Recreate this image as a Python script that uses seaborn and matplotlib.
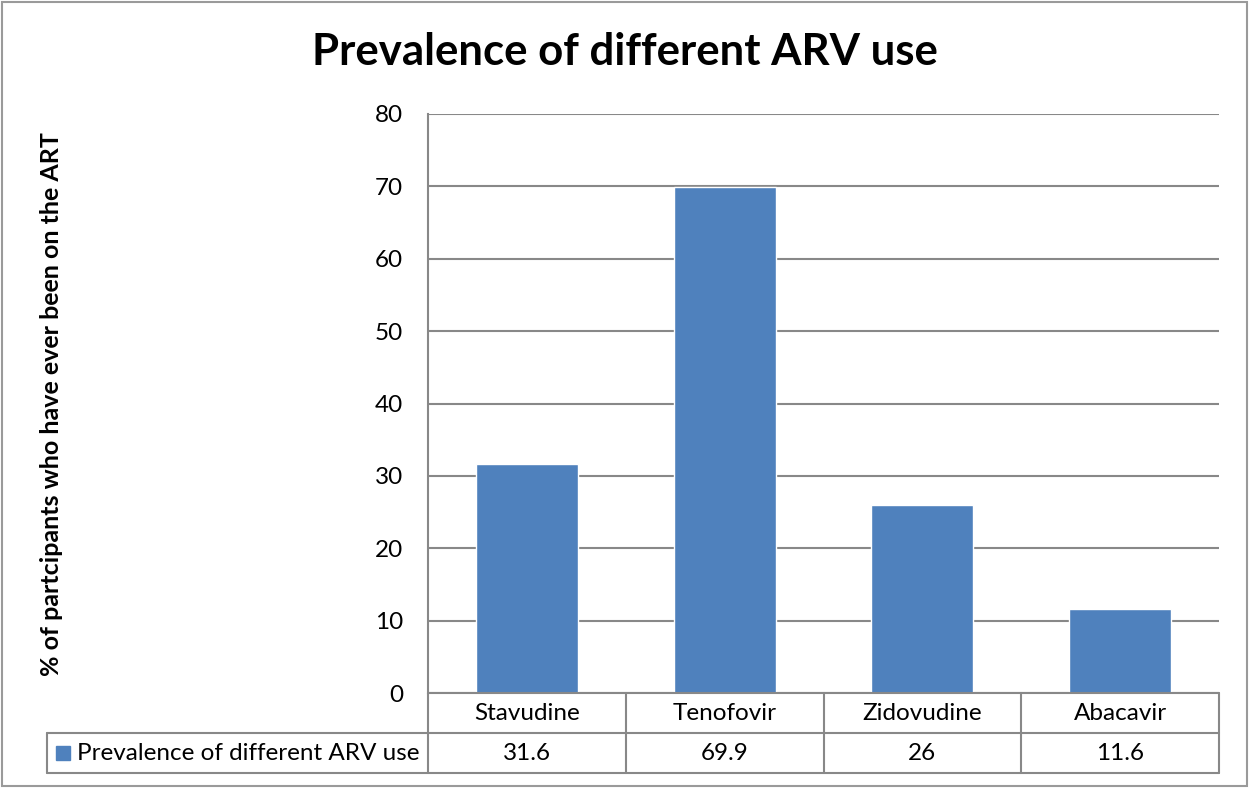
import matplotlib
matplotlib.use('Agg')
import matplotlib.pyplot as plt
import seaborn as sns
import pandas as pd
from matplotlib.lines import Line2D
from matplotlib.patches import Rectangle

drugs = ['Stavudine', 'Tenofovir', 'Zidovudine', 'Abacavir']
prevalence = [31.6, 69.9, 26, 11.6]
value_labels = ['31.6', '69.9', '26', '11.6']
series_name = 'Prevalence of different ARV use'
y_ticks = [0, 10, 20, 30, 40, 50, 60, 70, 80]

df = pd.DataFrame({'drug': drugs, 'prevalence': prevalence})

sns.set_style('white')
plt.rcParams['font.family'] = ['Lato', 'DejaVu Sans']
plt.rcParams['text.color'] = 'black'
plt.rcParams['ytick.color'] = 'black'

W, H = 1249, 788
fig = plt.figure(figsize=(W / 100, H / 100), dpi=100)


def fx(px):
    return px / W


def fy(py):
    return 1 - py / H


ax = fig.add_axes([fx(428), fy(693), fx(1219) - fx(428), fy(114) - fy(693)])

sns.barplot(data=df, x='drug', y='prevalence', color='#4F81BD', saturation=1,
            width=0.515, ax=ax, zorder=3)

ax.set_xlim(-0.5, 3.5)
ax.set_ylim(0, 80)
ax.set_yticks(y_ticks)
ax.set_yticklabels([str(t) for t in y_ticks], fontsize=17.5)
ax.tick_params(axis='y', length=0, pad=18, labelcolor='black')
ax.set_xticks([])
ax.set_xlabel('')
ax.set_ylabel('')
ax.yaxis.grid(True, color='#888888', linewidth=1.5, zorder=0)
for s in ['top', 'right', 'bottom']:
    ax.spines[s].set_visible(False)
ax.spines['left'].set_color('#888888')
ax.spines['left'].set_linewidth(1.5)

fig.text(fx(625), fy(52), 'Prevalence of different ARV use', ha='center', va='center',
         fontsize=31.5, fontweight='bold', color='black')
fig.text(fx(52), fy(404), '% of partcipants who have ever been on the ART', rotation=90,
         ha='center', va='center', fontsize=18, fontweight='bold', color='black')

# data table under the plot
gc = '#888888'
lw = 1.5
fig.add_artist(Line2D([fx(428), fx(1219)], [fy(693), fy(693)], color=gc, lw=lw))
for yy in [733, 773]:
    fig.add_artist(Line2D([fx(47), fx(1219)], [fy(yy), fy(yy)], color=gc, lw=lw))
fig.add_artist(Line2D([fx(47), fx(47)], [fy(733), fy(773)], color=gc, lw=lw))
for xx in [428, 626, 824, 1021, 1219]:
    fig.add_artist(Line2D([fx(xx), fx(xx)], [fy(693), fy(773)], color=gc, lw=lw))

col_x = ax.get_xaxis_transform()
row1 = (fy(713) - fy(693)) / (fy(114) - fy(693))
row2 = (fy(753) - fy(693)) / (fy(114) - fy(693))
for i, (d, v) in enumerate(zip(drugs, value_labels)):
    ax.text(i, row1, d, transform=col_x, fontsize=17.5, ha='center', va='center',
            color='black', clip_on=False)
    ax.text(i, row2, v, transform=col_x, fontsize=17.5, ha='center', va='center',
            color='black', clip_on=False)

fig.add_artist(Rectangle((fx(56), fy(760)), fx(14), fy(746) - fy(760), color='#4F81BD'))
fig.text(fx(77), fy(753), series_name, ha='left', va='center', fontsize=17.5, color='black')

# outer chart border
fig.add_artist(Rectangle((fx(2), fy(786)), fx(1245), fy(2) - fy(786), fill=False,
                         edgecolor='#9a9a9a', lw=1.5))

fig.savefig('out.png', dpi=100)
